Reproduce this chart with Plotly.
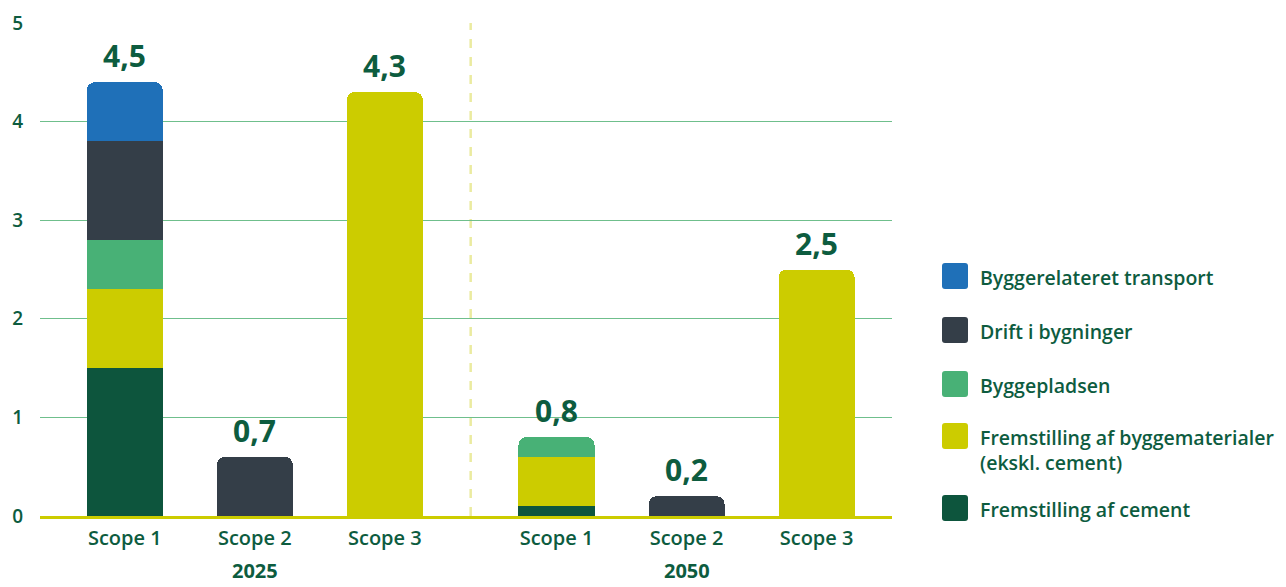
import plotly.graph_objects as go

# ---- data ----
years = ["2025", "2050"]
scopes = ["Scope 1", "Scope 2", "Scope 3"]
series_names = [
    "Fremstilling af cement",
    "Fremstilling af byggematerialer<br>(ekskl. cement)",
    "Byggepladsen",
    "Drift i bygninger",
    "Byggerelateret transport",
]
series_colors = ["#0d553d", "#cccc00", "#48b176", "#343e48", "#1f70b8"]
# values per bar: 2025 S1, S2, S3, 2050 S1, S2, S3
cement = [1.5, 0, 0, 0.1, 0, 0]
materialer = [0.8, 0, 4.3, 0.5, 0, 2.5]
byggepladsen = [0.5, 0, 0, 0.2, 0, 0]
drift = [1.0, 0.6, 0, 0, 0.2, 0]
transport = [0.6, 0, 0, 0, 0, 0]
total_labels = ["4,5", "0,7", "4,3", "0,8", "0,2", "2,5"]
y_ticks = [0, 1, 2, 3, 4, 5]

series_values = [cement, materialer, byggepladsen, drift, transport]

# ---- layout helpers ----
TEXT = "#0d5c3f"
FONT = "Open Sans"
group_gap = 3.32
xpos = [g * group_gap + i for g in range(len(years)) for i in range(len(scopes))]
ticktext = [s for _ in years for s in scopes]
totals = [sum(v[k] for v in series_values) for k in range(len(xpos))]

PL, PR, PT, PB = 40, 892, 23, 516


def px(x):
    return (x - PL) / (PR - PL)


def py_(y):
    return (PB - y) / (PB - PT)


fig = go.Figure()
for name, color, vals in zip(series_names, series_colors, series_values):
    fig.add_trace(go.Bar(
        x=xpos, y=vals, name=name, marker=dict(color=color, line=dict(width=0)),
        width=0.585, showlegend=False, hoverinfo="skip",
    ))

annotations = []
for x, t, lab in zip(xpos, totals, total_labels):
    annotations.append(dict(x=x, y=t, text=lab, showarrow=False, yanchor="bottom",
                            yshift=4, font=dict(family=FONT, size=30, color=TEXT, weight=700)))
for g, yr in enumerate(years):
    annotations.append(dict(x=g * group_gap + 1, y=py_(586), xref="x", yref="paper", text=yr,
                            showarrow=False, yanchor="bottom",
                            font=dict(family=FONT, size=20, color=TEXT, weight=700)))

# legend (manual)
leg_order = [4, 3, 2, 1, 0]
leg_y = [276, 330, 384, 436, 508]  # pixel centers
shapes = []
for k, cy in zip(leg_order, leg_y):
    x0, x1 = 942, 968
    y0, y1 = cy - 13, cy + 13
    r = 3
    path = (f"M {px(x0+r)},{py_(y0)} L {px(x1-r)},{py_(y0)} Q {px(x1)},{py_(y0)} {px(x1)},{py_(y0+r)} "
            f"L {px(x1)},{py_(y1-r)} Q {px(x1)},{py_(y1)} {px(x1-r)},{py_(y1)} "
            f"L {px(x0+r)},{py_(y1)} Q {px(x0)},{py_(y1)} {px(x0)},{py_(y1-r)} "
            f"L {px(x0)},{py_(y0+r)} Q {px(x0)},{py_(y0)} {px(x0+r)},{py_(y0)} Z")
    shapes.append(dict(type="path", xref="paper", yref="paper", path=path,
                       fillcolor=series_colors[k], line=dict(width=0)))
    annotations.append(dict(x=px(978), y=py_(cy - 14), xref="paper", yref="paper",
                            text=series_names[k], showarrow=False, xanchor="left", yanchor="top",
                            align="left",
                            font=dict(family=FONT, size=19.5, color=TEXT, weight=600)))

# separator
sep_x = (xpos[len(scopes) - 1] + xpos[len(scopes)]) / 2
shapes.append(dict(type="line", x0=sep_x, x1=sep_x, y0=0, y1=5, xref="x", yref="y",
                   line=dict(color="#ebeba0", width=2.5, dash="dash"), layer="below"))

fig.update_layout(
    width=1286, height=587,
    margin=dict(l=PL, r=1286 - PR, t=PT, b=587 - PB),
    barmode="stack", barcornerradius=8,
    plot_bgcolor="white", paper_bgcolor="white",
    shapes=shapes, annotations=annotations,
    xaxis=dict(range=[-0.652, 5.90], tickvals=xpos, ticktext=ticktext, showgrid=False,
               zeroline=False, showline=True, linecolor="#cccc00", linewidth=3,
               ticks="", ticklabelstandoff=2, automargin=False,
               tickfont=dict(family=FONT, size=20, color=TEXT, weight=600)),
    yaxis=dict(range=[0, 5], tickvals=y_ticks, showgrid=True, gridcolor="#6fbf8c", gridwidth=1,
               zeroline=False, ticks="", ticklabelstandoff=16, automargin=False,
               tickfont=dict(family=FONT, size=19, color=TEXT, weight=600)),
    showlegend=False,
)

fig.write_html("out.html", config={"displayModeBar": False},
               post_script="document.body.style.margin='0';")
